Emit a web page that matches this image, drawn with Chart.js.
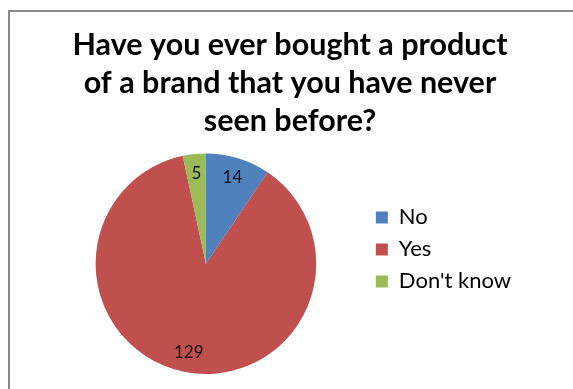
<!DOCTYPE html>
<html>
<head>
<meta charset="utf-8">
<script src="https://cdn.jsdelivr.net/npm/chart.js@4.4.1/dist/chart.umd.min.js"></script>
<style>
  html, body { margin: 0; padding: 0; background: #fff; overflow: hidden; }
  #frame { position: absolute; left: 8px; top: 10px; width: 700px; height: 500px; border: 2px solid #8a8a8a; }
  #wrap { position: absolute; left: 0; top: 0; width: 573px; height: 389px; }
</style>
</head>
<body>
<div id="frame"></div>
<div id="wrap"><canvas id="c" width="573" height="389"></canvas></div>
<script>
const titleLines = ['Have you ever bought a product', 'of a brand that you have never', 'seen before?'];
const categories = ['No', 'Yes', "Don't know"];
const answers = [14, 129, 5];
const sliceColors = ['#4F81BD', '#C0504D', '#9BBB59'];

// Writes each slice's count inside the slice, near its outer edge
const sliceValueLabels = {
  id: 'sliceValueLabels',
  afterDatasetsDraw(chart) {
    const ctx = chart.ctx;
    const meta = chart.getDatasetMeta(0);
    const values = chart.data.datasets[0].data;
    ctx.save();
    ctx.font = '17px Lato';
    ctx.fillStyle = '#111';
    ctx.textAlign = 'center';
    ctx.textBaseline = 'middle';
    meta.data.forEach((arc, i) => {
      const p = arc.getProps(['x', 'y', 'startAngle', 'endAngle', 'outerRadius'], true);
      const mid = (p.startAngle + p.endAngle) / 2;
      const r = p.outerRadius * 0.82;
      ctx.fillText(String(values[i]), p.x + Math.cos(mid) * r, p.y + Math.sin(mid) * r);
    });
    ctx.restore();
  }
};

// Empty layout box on the right edge: keeps blank room beside the legend
// (display:false keeps it out of the legend's width budget)
const rightGutter = {
  id: 'rightGutter',
  beforeInit(chart) {
    Chart.layouts.addBox(chart, {
      position: 'right',
      weight: 2000,
      fullSize: false,
      options: { display: false },
      left: 0, top: 0, right: 0, bottom: 0, width: 0, height: 0,
      isHorizontal() { return false; },
      update(maxWidth, maxHeight) { this.width = 13; this.height = maxHeight; },
      draw() {}
    });
  }
};

new Chart(document.getElementById('c'), {
  type: 'pie',
  data: {
    labels: categories,
    datasets: [{
      data: answers,
      backgroundColor: sliceColors,
      borderWidth: 0
    }]
  },
  options: {
    responsive: false,
    animation: false,
    layout: { padding: { left: 46, right: 39, top: 0, bottom: 15 } },
    plugins: {
      title: {
        display: true,
        text: titleLines,
        color: '#000',
        font: { family: 'Lato', size: 30.5, weight: 'bold', lineHeight: 1.25 },
        padding: { top: 26, bottom: 13 }
      },
      legend: {
        position: 'right',
        align: 'start',
        fullSize: false,
        title: { display: true, text: '', padding: { top: 31, bottom: 0 }, font: { size: 10 } },
        labels: {
          color: '#000',
          font: { family: 'Lato', size: 22 },
          boxWidth: 12,
          boxHeight: 12,
          padding: 10
        }
      },
      tooltip: { enabled: false }
    }
  },
  plugins: [sliceValueLabels, rightGutter]
});
</script>
</body>
</html>
